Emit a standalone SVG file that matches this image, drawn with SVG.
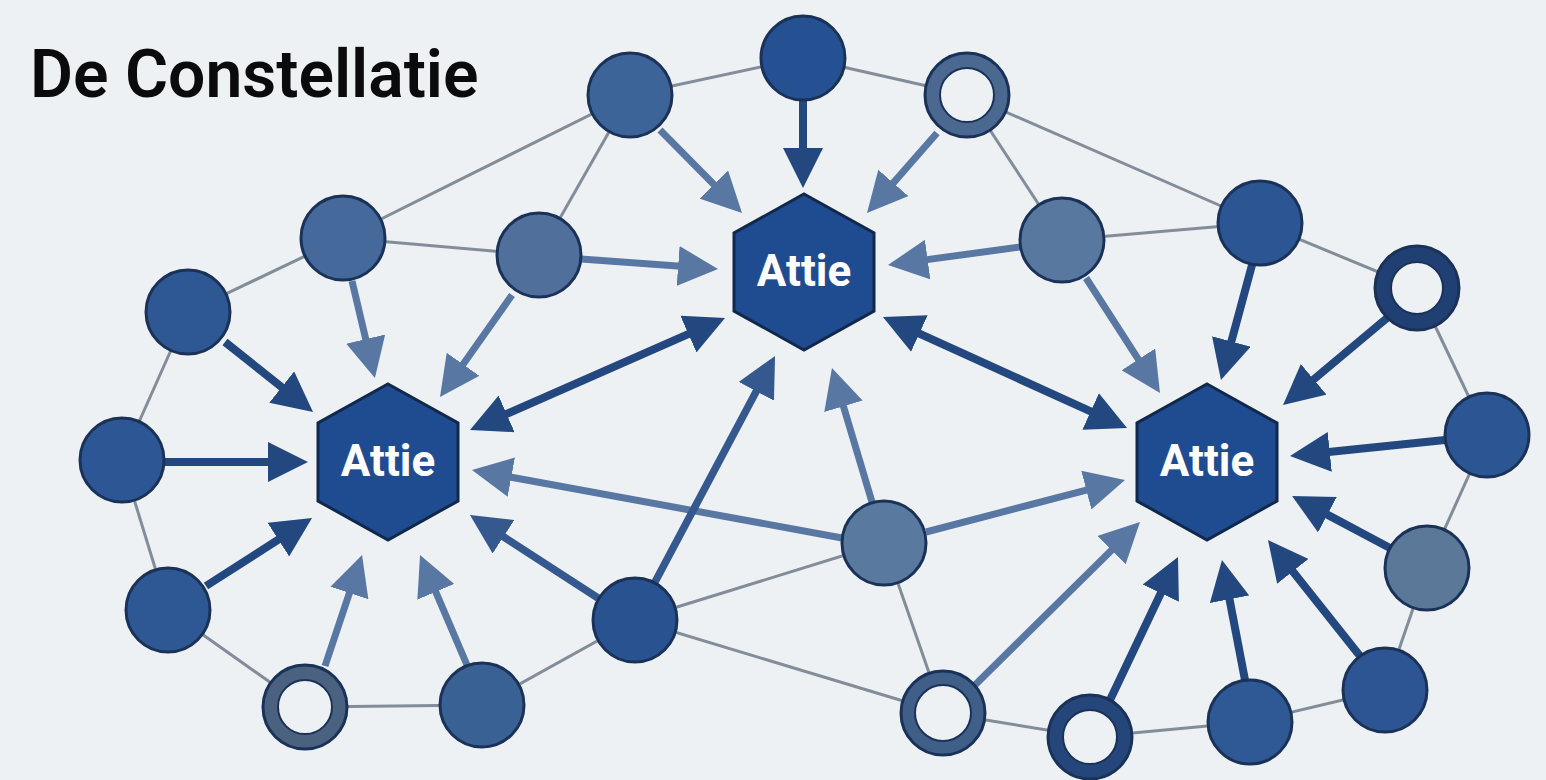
<svg xmlns="http://www.w3.org/2000/svg" width="1546" height="780" viewBox="0 0 1546 780">
  <defs>
    <style>
      .bg { fill: #eef1f4; }
      .title { font-family: Roboto, "Liberation Sans", sans-serif; font-weight: 600; font-size: 66px; fill: #0b0b0d; }
      .edge { stroke: #838d9a; stroke-width: 3; fill: none; }
      .node { stroke: #1b3258; stroke-width: 3; }
      .ring-hole { fill: #eef1f4; stroke: #1b3258; stroke-width: 2; }
      .hex { fill: #1f4c90; stroke: #11284d; stroke-width: 3; }
      .hex-label { font-family: Roboto, "Liberation Sans", sans-serif; font-weight: 700; font-size: 44px; fill: #ffffff; text-anchor: middle; }
      .arr-dark { stroke: #23477f; stroke-width: 8; fill: none; marker-end: url(#head-dark); }
      .arr-mid { stroke: #35598e; stroke-width: 7.5; fill: none; marker-end: url(#head-mid); }
      .arr-light { stroke: #5877a3; stroke-width: 7; fill: none; marker-end: url(#head-light); }
      .arr-both { stroke: #23477f; stroke-width: 8; fill: none; marker-start: url(#head-dark); marker-end: url(#head-dark); }
    </style>
    <marker id="head-dark" viewBox="0 0 40 40" refX="6" refY="20" markerWidth="40" markerHeight="40" markerUnits="userSpaceOnUse" orient="auto-start-reverse">
      <path d="M0,0 L40,20 L0,40 z" fill="#23477f"/>
    </marker>
    <marker id="head-mid" viewBox="0 0 40 40" refX="6" refY="20" markerWidth="40" markerHeight="40" markerUnits="userSpaceOnUse" orient="auto-start-reverse">
      <path d="M0,0 L40,20 L0,40 z" fill="#35598e"/>
    </marker>
    <marker id="head-light" viewBox="0 0 40 40" refX="6" refY="20" markerWidth="40" markerHeight="40" markerUnits="userSpaceOnUse" orient="auto-start-reverse">
      <path d="M0,0 L40,20 L0,40 z" fill="#5877a3"/>
    </marker>
    <polygon id="hexagon" points="0,-78 70,-39 70,39 0,78 -70,39 -70,-39"/>
  </defs>

  <rect class="bg" x="0" y="0" width="1546" height="780"/>
  <text class="title" x="30" y="97">De Constellatie</text>

  <!-- thin network links between the outer nodes -->
  <g id="links">
    <line class="edge" x1="630" y1="95" x2="803" y2="58"/>
    <line class="edge" x1="803" y1="58" x2="967" y2="95"/>
    <line class="edge" x1="967" y1="95" x2="1260" y2="223"/>
    <line class="edge" x1="967" y1="95" x2="1062" y2="240"/>
    <line class="edge" x1="1062" y1="240" x2="1260" y2="223"/>
    <line class="edge" x1="1260" y1="223" x2="1417" y2="288"/>
    <line class="edge" x1="1417" y1="288" x2="1487" y2="435"/>
    <line class="edge" x1="1487" y1="435" x2="1427" y2="568"/>
    <line class="edge" x1="1427" y1="568" x2="1385" y2="690"/>
    <line class="edge" x1="1385" y1="690" x2="1250" y2="722"/>
    <line class="edge" x1="1250" y1="722" x2="1090" y2="737"/>
    <line class="edge" x1="1090" y1="737" x2="943" y2="713"/>
    <line class="edge" x1="943" y1="713" x2="884" y2="543"/>
    <line class="edge" x1="943" y1="713" x2="635" y2="620"/>
    <line class="edge" x1="635" y1="620" x2="884" y2="543"/>
    <line class="edge" x1="635" y1="620" x2="482" y2="705"/>
    <line class="edge" x1="482" y1="705" x2="305" y2="707"/>
    <line class="edge" x1="305" y1="707" x2="168" y2="610"/>
    <line class="edge" x1="168" y1="610" x2="122" y2="460"/>
    <line class="edge" x1="122" y1="460" x2="188" y2="312"/>
    <line class="edge" x1="188" y1="312" x2="343" y2="238"/>
    <line class="edge" x1="343" y1="238" x2="630" y2="95"/>
    <line class="edge" x1="343" y1="238" x2="539" y2="255"/>
    <line class="edge" x1="630" y1="95" x2="539" y2="255"/>
  </g>

  <!-- directed arrows into the three hubs -->
  <g id="arrows">
    <line class="arr-light" x1="660" y1="130" x2="718.1" y2="188.8"/>
    <line class="arr-dark" x1="803" y1="100" x2="803" y2="154"/>
    <line class="arr-light" x1="937" y1="133" x2="889.4" y2="187.4"/>
    <line class="arr-light" x1="581" y1="259" x2="684.1" y2="266.5"/>
    <line class="arr-light" x1="1020" y1="247" x2="921.7" y2="260.4"/>
    <line class="arr-light" x1="1086" y1="278" x2="1141.6" y2="364.4"/>
    <line class="arr-dark" x1="1252" y1="265" x2="1229.8" y2="347.2"/>
    <line class="arr-dark" x1="1387" y1="318" x2="1309.1" y2="383.2"/>
    <line class="arr-dark" x1="1445" y1="440" x2="1323.8" y2="452.5"/>
    <line class="arr-dark" x1="1390" y1="548" x2="1322.1" y2="511.9"/>
    <line class="arr-dark" x1="1360" y1="656" x2="1289.1" y2="566.7"/>
    <line class="arr-dark" x1="1245" y1="680" x2="1228.4" y2="593.4"/>
    <line class="arr-dark" x1="1110" y1="700" x2="1163.4" y2="587.7"/>
    <line class="arr-light" x1="975" y1="685" x2="1115.8" y2="545.9"/>
    <line class="arr-light" x1="926" y1="532" x2="1092.1" y2="488.6"/>
    <line class="arr-light" x1="872" y1="502" x2="841.7" y2="400.6"/>
    <line class="arr-light" x1="842" y1="538" x2="505.4" y2="476.1"/>
    <line class="arr-mid" x1="655" y1="582" x2="759.1" y2="386"/>
    <line class="arr-mid" x1="598" y1="598" x2="498.5" y2="533.5"/>
    <line class="arr-light" x1="467" y1="665" x2="433.4" y2="586.3"/>
    <line class="arr-light" x1="325" y1="666" x2="351.3" y2="587.3"/>
    <line class="arr-dark" x1="206" y1="586" x2="283.4" y2="536.4"/>
    <line class="arr-dark" x1="165" y1="462" x2="274" y2="462"/>
    <line class="arr-dark" x1="225" y1="342" x2="286.4" y2="390.8"/>
    <line class="arr-light" x1="352" y1="281" x2="367.1" y2="344.9"/>
    <line class="arr-light" x1="512" y1="295" x2="459.6" y2="369.2"/>
    <line class="arr-both" x1="501.1" y1="416.3" x2="693.9" y2="331.7"/>
    <line class="arr-both" x1="913.9" y1="331.1" x2="1096.1" y2="413.9"/>
  </g>

  <!-- outer nodes -->
  <g id="n1"><circle class="node" cx="630" cy="95" r="42" fill="#3c6499"/></g>
  <g id="n2"><circle class="node" cx="803" cy="58" r="42" fill="#255192"/></g>
  <g id="n3"><circle class="node" cx="967" cy="95" r="42" fill="#4a6890"/><circle class="ring-hole" cx="967" cy="95" r="27"/></g>
  <g id="n4"><circle class="node" cx="343" cy="238" r="42" fill="#46699b"/></g>
  <g id="n5"><circle class="node" cx="539" cy="255" r="42" fill="#50709b"/></g>
  <g id="n6"><circle class="node" cx="1062" cy="240" r="42" fill="#5878a0"/></g>
  <g id="n7"><circle class="node" cx="1260" cy="223" r="42" fill="#2b5593"/></g>
  <g id="n8"><circle class="node" cx="1417" cy="288" r="42" fill="#203f73"/><circle class="ring-hole" cx="1417" cy="288" r="26"/></g>
  <g id="n9"><circle class="node" cx="188" cy="312" r="42" fill="#2d5894"/></g>
  <g id="n10"><circle class="node" cx="122" cy="460" r="42" fill="#2c5794"/></g>
  <g id="n11"><circle class="node" cx="1487" cy="435" r="42" fill="#2b5593"/></g>
  <g id="n12"><circle class="node" cx="884" cy="543" r="42" fill="#5a799f"/></g>
  <g id="n13"><circle class="node" cx="168" cy="610" r="42" fill="#2e5894"/></g>
  <g id="n14"><circle class="node" cx="1427" cy="568" r="42" fill="#5b7898"/></g>
  <g id="n15"><circle class="node" cx="635" cy="620" r="42" fill="#285290"/></g>
  <g id="n16"><circle class="node" cx="305" cy="707" r="42" fill="#4a627f"/><circle class="ring-hole" cx="305" cy="707" r="27"/></g>
  <g id="n17"><circle class="node" cx="482" cy="705" r="42" fill="#3a6194"/></g>
  <g id="n18"><circle class="node" cx="943" cy="713" r="42" fill="#3f5f88"/><circle class="ring-hole" cx="943" cy="713" r="28"/></g>
  <g id="n19"><circle class="node" cx="1090" cy="737" r="42" fill="#25467a"/><circle class="ring-hole" cx="1090" cy="737" r="27"/></g>
  <g id="n20"><circle class="node" cx="1250" cy="722" r="42" fill="#2f5994"/></g>
  <g id="n21"><circle class="node" cx="1385" cy="690" r="42" fill="#2d5593"/></g>

  <!-- hubs -->
  <g id="hub-left"><use href="#hexagon" class="hex" x="388" y="462"/><text class="hex-label" x="388" y="476">Attie</text></g>
  <g id="hub-center"><use href="#hexagon" class="hex" x="804" y="272"/><text class="hex-label" x="804" y="286">Attie</text></g>
  <g id="hub-right"><use href="#hexagon" class="hex" x="1207" y="462"/><text class="hex-label" x="1207" y="476">Attie</text></g>
</svg>
